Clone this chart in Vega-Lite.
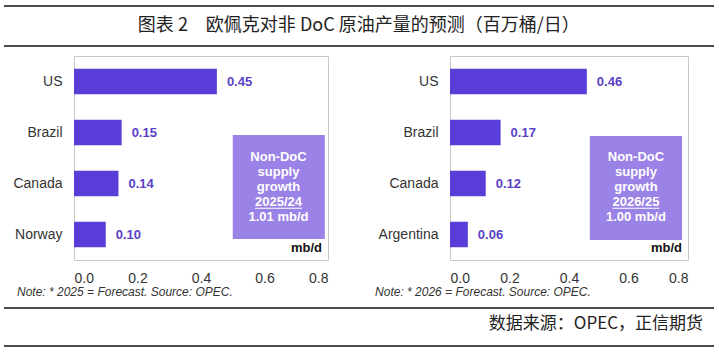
{
  "$schema": "https://vega.github.io/schema/vega-lite/v6.json",
  "background": "white",
  "padding": {"left": 3, "top": 5, "right": 6, "bottom": 7},
  "spacing": 8,
  "config": {
    "view": {"stroke": "#c8c8c8", "strokeWidth": 1},
    "font": "Liberation Sans",
    "axis": {"labelFont": "Liberation Sans"}
  },
  "datasets": {
    "p1": [
      {"country": "US", "value": 0.45},
      {"country": "Brazil", "value": 0.15},
      {"country": "Canada", "value": 0.14},
      {"country": "Norway", "value": 0.10}
    ],
    "p2": [
      {"country": "US", "value": 0.46},
      {"country": "Brazil", "value": 0.17},
      {"country": "Canada", "value": 0.12},
      {"country": "Argentina", "value": 0.06}
    ],
    "box1": [
      {"line": 1, "t": "Non-DoC"},
      {"line": 2, "t": "supply"},
      {"line": 3, "t": "growth"},
      {"line": 4, "t": "2025/24"},
      {"line": 5, "t": "1.01 mb/d"}
    ],
    "box2": [
      {"line": 1, "t": "Non-DoC"},
      {"line": 2, "t": "supply"},
      {"line": 3, "t": "growth"},
      {"line": 4, "t": "2026/25"},
      {"line": 5, "t": "1.00 mb/d"}
    ]
  },
  "vconcat": [
    {
      "width": 640,
      "height": 40,
      "view": {"stroke": null},
      "layer": [
        {
          "data": {"values": [{"p": 0}, {"p": 1}]},
          "mark": {"type": "rule", "color": "#111111", "strokeWidth": 1.5},
          "encoding": {
            "y": {"field": "p", "type": "quantitative", "scale": {"domain": [0, 1], "nice": false}, "axis": null},
            "x": {"datum": -0.109375, "type": "quantitative", "scale": {"domain": [0, 1], "nice": false, "zero": false}, "axis": null},
            "x2": {"datum": 1}
          }
        },
        {
          "data": {"values": [{"t": "图表 2　欧佩克对非 DoC 原油产量的预测（百万桶/日）"}]},
          "mark": {"type": "text", "fontSize": 18, "font": "Noto Sans CJK SC", "color": "#222222", "baseline": "middle"},
          "encoding": {
            "text": {"field": "t"},
            "x": {"datum": 0.445, "type": "quantitative"},
            "y": {"datum": 0.5, "type": "quantitative"}
          }
        }
      ]
    },
    {
      "spacing": 45,
      "hconcat": [
        {
          "width": 254,
          "height": 204,
          "title": {"text": "Note: * 2025 = Forecast. Source: OPEC.", "orient": "bottom", "anchor": "start", "frame": "bounds", "offset": 2, "dx": 13, "fontSize": 12, "fontStyle": "italic", "fontWeight": "normal", "font": "Liberation Sans", "color": "#333333"},
          "layer": [
            {
              "data": {"name": "p1"},
              "layer": [
                {
                  "mark": {"type": "bar", "color": "#5A3CD8"},
                  "encoding": {
                    "y": {"field": "country", "type": "nominal", "sort": null, "scale": {"paddingInner": 0.5, "paddingOuter": 0.25}, "axis": {"title": null, "ticks": false, "domain": false, "labelPadding": 12, "labelFontSize": 14, "labelColor": "#333333", "minExtent": 70}},
                    "x": {"field": "value", "type": "quantitative", "scale": {"domain": [0, 0.8], "nice": false}, "axis": {"title": null, "values": [0, 0.2, 0.4, 0.6, 0.8], "format": ".1f", "ticks": false, "domain": false, "grid": false, "labelPadding": 11, "labelFontSize": 14, "labelColor": "#333333"}}
                  }
                },
                {
                  "mark": {"type": "text", "align": "left", "dx": 10, "fontSize": 13, "fontWeight": "bold", "color": "#5B3FC6"},
                  "encoding": {
                    "y": {"field": "country", "type": "nominal", "sort": null},
                    "x": {"field": "value", "type": "quantitative"},
                    "text": {"field": "value", "type": "quantitative", "format": ".2f"}
                  }
                }
              ]
            },
            {
              "layer": [
                {
                  "data": {"values": [{}]},
                  "mark": {"type": "rect", "color": "#9B82E6"},
                  "encoding": {
                    "x": {"datum": 0.5, "type": "quantitative"},
                    "x2": {"datum": 0.79},
                    "y": {"datum": -0.433, "type": "quantitative", "scale": {"domain": [-5.7, 7.9], "reverse": true, "nice": false, "zero": false}, "axis": null},
                    "y2": {"datum": 6.5}
                  }
                },
                {
                  "data": {"name": "box1"},
                  "mark": {"type": "text", "fontSize": 13, "fontWeight": "bold", "color": "white", "baseline": "middle"},
                  "encoding": {
                    "x": {"datum": 0.644, "type": "quantitative"},
                    "y": {"field": "line", "type": "quantitative", "axis": null},
                    "text": {"field": "t"}
                  }
                },
                {
                  "data": {"values": [{}]},
                  "mark": {"type": "rule", "color": "white", "strokeWidth": 1},
                  "encoding": {
                    "x": {"datum": 0.570, "type": "quantitative"},
                    "x2": {"datum": 0.718},
                    "y": {"datum": 4.45, "type": "quantitative", "axis": null}
                  }
                },
                {
                  "data": {"values": [{"t": "mb/d"}]},
                  "mark": {"type": "text", "fontSize": 13, "fontWeight": "bold", "color": "#111111", "align": "right", "dx": -6, "baseline": "middle"},
                  "encoding": {
                    "x": {"datum": 0.8, "type": "quantitative"},
                    "y": {"datum": 7.08, "type": "quantitative", "axis": null},
                    "text": {"field": "t"}
                  }
                }
              ]
            }
          ],
          "resolve": {"scale": {"y": "independent"}, "axis": {"y": "independent"}}
        },
        {
          "width": 238,
          "height": 204,
          "title": {"text": "Note: * 2026 = Forecast. Source: OPEC.", "orient": "bottom", "anchor": "start", "frame": "bounds", "offset": 2, "dx": -3, "fontSize": 12, "fontStyle": "italic", "fontWeight": "normal", "font": "Liberation Sans", "color": "#333333"},
          "layer": [
            {
              "data": {"name": "p2"},
              "layer": [
                {
                  "mark": {"type": "bar", "color": "#5A3CD8"},
                  "encoding": {
                    "y": {"field": "country", "type": "nominal", "sort": null, "scale": {"paddingInner": 0.5, "paddingOuter": 0.25}, "axis": {"title": null, "ticks": false, "domain": false, "labelPadding": 12, "labelFontSize": 14, "labelColor": "#333333"}},
                    "x": {"field": "value", "type": "quantitative", "scale": {"domain": [0, 0.8], "nice": false}, "axis": {"title": null, "values": [0, 0.2, 0.4, 0.6, 0.8], "format": ".1f", "ticks": false, "domain": false, "grid": false, "labelPadding": 11, "labelFontSize": 14, "labelColor": "#333333"}}
                  }
                },
                {
                  "mark": {"type": "text", "align": "left", "dx": 10, "fontSize": 13, "fontWeight": "bold", "color": "#5B3FC6"},
                  "encoding": {
                    "y": {"field": "country", "type": "nominal", "sort": null},
                    "x": {"field": "value", "type": "quantitative"},
                    "text": {"field": "value", "type": "quantitative", "format": ".2f"}
                  }
                }
              ]
            },
            {
              "layer": [
                {
                  "data": {"values": [{}]},
                  "mark": {"type": "rect", "color": "#9B82E6"},
                  "encoding": {
                    "x": {"datum": 0.47, "type": "quantitative"},
                    "x2": {"datum": 0.78},
                    "y": {"datum": -0.367, "type": "quantitative", "scale": {"domain": [-5.7, 7.9], "reverse": true, "nice": false, "zero": false}, "axis": null},
                    "y2": {"datum": 6.57}
                  }
                },
                {
                  "data": {"name": "box2"},
                  "mark": {"type": "text", "fontSize": 13, "fontWeight": "bold", "color": "white", "baseline": "middle"},
                  "encoding": {
                    "x": {"datum": 0.625, "type": "quantitative"},
                    "y": {"field": "line", "type": "quantitative", "axis": null},
                    "text": {"field": "t"}
                  }
                },
                {
                  "data": {"values": [{}]},
                  "mark": {"type": "rule", "color": "white", "strokeWidth": 1},
                  "encoding": {
                    "x": {"datum": 0.546, "type": "quantitative"},
                    "x2": {"datum": 0.704},
                    "y": {"datum": 4.45, "type": "quantitative", "axis": null}
                  }
                },
                {
                  "data": {"values": [{"t": "mb/d"}]},
                  "mark": {"type": "text", "fontSize": 13, "fontWeight": "bold", "color": "#111111", "align": "right", "dx": -6, "baseline": "middle"},
                  "encoding": {
                    "x": {"datum": 0.8, "type": "quantitative"},
                    "y": {"datum": 7.08, "type": "quantitative", "axis": null},
                    "text": {"field": "t"}
                  }
                }
              ]
            }
          ],
          "resolve": {"scale": {"y": "independent"}, "axis": {"y": "independent"}}
        }
      ]
    },
    {
      "width": 640,
      "height": 38,
      "view": {"stroke": null},
      "layer": [
        {
          "data": {"values": [{"p": 0}, {"p": 1}]},
          "mark": {"type": "rule", "color": "#111111", "strokeWidth": 1.5},
          "encoding": {
            "y": {"field": "p", "type": "quantitative", "scale": {"domain": [0, 1], "nice": false}, "axis": null},
            "x": {"datum": -0.109375, "type": "quantitative", "scale": {"domain": [0, 1], "nice": false, "zero": false}, "axis": null},
            "x2": {"datum": 1}
          }
        },
        {
          "data": {"values": [{"t": "数据来源：OPEC，正信期货"}]},
          "mark": {"type": "text", "align": "right", "dx": -11, "fontSize": 17, "font": "Noto Sans CJK SC", "color": "#222222", "baseline": "middle"},
          "encoding": {
            "text": {"field": "t"},
            "x": {"datum": 1, "type": "quantitative"},
            "y": {"datum": 0.58, "type": "quantitative"}
          }
        }
      ]
    }
  ]
}
